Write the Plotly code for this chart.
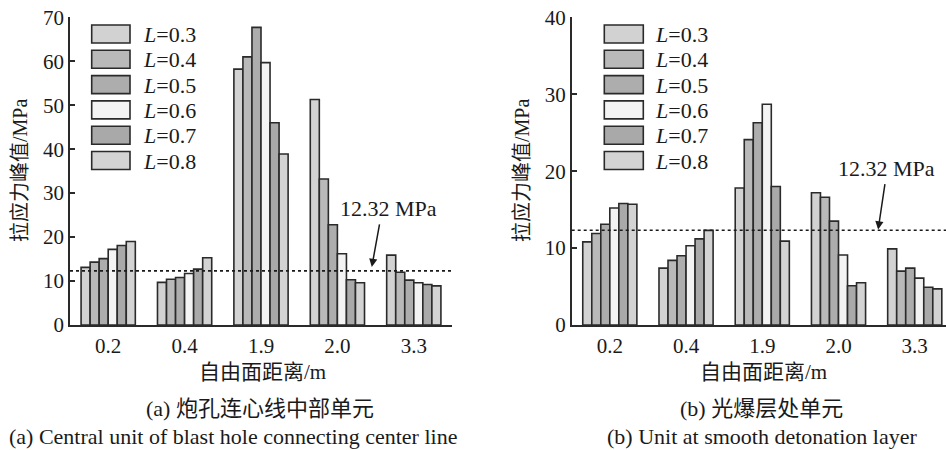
import plotly.graph_objects as go

# ---------------- data ----------------
categories = ["0.2", "0.4", "1.9", "2.0", "3.3"]
L_values = ["0.3", "0.4", "0.5", "0.6", "0.7", "0.8"]

# (a) central unit of blast hole connecting center line
a_L03 = [13.1, 9.7, 58.2, 51.3, 15.9]
a_L04 = [14.3, 10.4, 61.0, 33.2, 12.0]
a_L05 = [15.1, 10.8, 67.7, 22.8, 10.2]
a_L06 = [17.2, 11.7, 59.7, 16.2, 9.6]
a_L07 = [18.1, 12.7, 46.0, 10.3, 9.2]
a_L08 = [19.0, 15.3, 38.9, 9.6, 8.9]

# (b) unit at smooth detonation layer
b_L03 = [10.8, 7.4, 17.8, 17.2, 9.9]
b_L04 = [11.9, 8.4, 24.1, 16.6, 7.0]
b_L05 = [13.1, 9.0, 26.3, 13.5, 7.4]
b_L06 = [15.2, 10.3, 28.7, 9.1, 6.1]
b_L07 = [15.8, 11.2, 18.0, 5.1, 4.9]
b_L08 = [15.7, 12.3, 10.9, 5.5, 4.7]

threshold = 12.32
y_ticks_a = [0, 10, 20, 30, 40, 50, 60, 70]
y_ticks_b = [0, 10, 20, 30, 40]

series_a = [a_L03, a_L04, a_L05, a_L06, a_L07, a_L08]
series_b = [b_L03, b_L04, b_L05, b_L06, b_L07, b_L08]

# ---------------- style ----------------
fills = ["#d2d2d2", "#b9b9b9", "#adadad", "#f3f3f3", "#a9a9a9", "#d3d3d3"]
edge = "#2a2a2a"
txt = "#1a1a1a"
SERIF = "Liberation Serif"
FONT = "Liberation Serif, Noto Sans CJK SC"
W, H = 946, 450

fig = go.Figure()
for i, L in enumerate(L_values):
    fig.add_trace(go.Bar(x=categories, y=series_a[i], name=f"L={L}",
                         marker=dict(color=fills[i], line=dict(color=edge, width=1.6)),
                         xaxis="x", yaxis="y", showlegend=False))
    fig.add_trace(go.Bar(x=categories, y=series_b[i], name=f"L={L}",
                         marker=dict(color=fills[i], line=dict(color=edge, width=1.6)),
                         xaxis="x2", yaxis="y2", showlegend=False))

def px_x(p):
    return p / W

def px_y(p):
    return 1 - p / H

ydom = [px_y(325), px_y(17.3)]
axis_common = dict(showgrid=False, zeroline=False, showline=True, linecolor=edge,
                   linewidth=1.7, automargin=False, ticklabeloverflow="allow",
                   tickfont=dict(family=SERIF, size=21, color=txt))

fig.update_layout(
    width=W, height=H,
    margin=dict(l=0, r=0, t=0, b=0, autoexpand=False),
    paper_bgcolor="white", plot_bgcolor="white",
    barmode="group", bargap=0.29, bargroupgap=0,
    showlegend=False,
    xaxis=dict(domain=[px_x(70), px_x(452)], type="category", range=[-0.5, 4.5],
               ticks="", anchor="y", ticklabelstandoff=1, **axis_common),
    yaxis=dict(domain=ydom, range=[0, 70], tickvals=y_ticks_a, ticks="inside",
               ticklen=5, tickwidth=1.5, tickcolor=edge, anchor="x", **axis_common),
    xaxis2=dict(domain=[px_x(571.7), 1.0], type="category", range=[-0.5, 4.41],
                ticks="", anchor="y2", ticklabelstandoff=1, **axis_common),
    yaxis2=dict(domain=ydom, range=[0, 40], tickvals=y_ticks_b, ticks="inside",
                ticklen=5, tickwidth=1.5, tickcolor=edge, anchor="x2", **axis_common),
)

# threshold dotted lines
for xr, yr in [("x domain", "y"), ("x2 domain", "y2")]:
    fig.add_shape(type="line", xref=xr, yref=yr, x0=0, x1=1, y0=threshold, y1=threshold,
                  line=dict(color=txt, width=1.6, dash="dot"), layer="above")

annotations = []
# threshold labels and arrows
for xr, yr, tx, ty, hx, hy, ax, ay in [("x", "y", 3.675, 26.6, 3.45, 13.2, 8, -44),
                                        ("x2", "y2", 3.625, 20.4, 3.52, 12.4, 7, -47)]:
    annotations.append(dict(xref=xr, yref=yr, x=tx, y=ty, text=f"{threshold} MPa",
                            xanchor="center", yanchor="middle",
                            showarrow=False, font=dict(family=SERIF, size=22, color=txt)))
    annotations.append(dict(xref=xr, yref=yr, x=hx, y=hy, text="", showarrow=True,
                            ax=ax, ay=ay, arrowhead=2, arrowsize=1.1, arrowwidth=1.5,
                            arrowcolor=txt))

# custom legends (wide rectangles like the reference)
row_tops = [25, 50.3, 75.6, 100.9, 126.2, 151.5]
for bx0, bx1, tx in [(91.7, 130, 141), (604.3, 643.3, 653)]:
    for i, L in enumerate(L_values):
        t = row_tops[i]
        fig.add_shape(type="rect", xref="paper", yref="paper",
                      x0=px_x(bx0), x1=px_x(bx1), y0=px_y(t + 18), y1=px_y(t),
                      fillcolor=fills[i], line=dict(color=edge, width=1.6))
        annotations.append(dict(xref="paper", yref="paper", x=px_x(tx), y=px_y(t + 9.5),
                                xanchor="left", yanchor="middle", showarrow=False,
                                text=f"<i>L</i>=" + L,
                                font=dict(family=SERIF, size=22, color=txt)))

# axis titles and captions
for cx, cap_cn, cap_en, cen_x in [(262, "(a) 炮孔连心线中部单元",
                                   "(a) Central unit of blast hole connecting center line", 233),
                                  (763, "(b) 光爆层处单元",
                                   "(b) Unit at smooth detonation layer", 762)]:
    annotations.append(dict(xref="paper", yref="paper", x=px_x(cx), y=px_y(372),
                            xanchor="center", yanchor="middle",
                            text="自由面距离/m", showarrow=False,
                            font=dict(family=FONT, size=21, color=txt)))
    annotations.append(dict(xref="paper", yref="paper", x=px_x(cx - 2), y=px_y(408),
                            xanchor="center", yanchor="middle",
                            text=cap_cn, showarrow=False,
                            font=dict(family=FONT, size=22, color=txt)))
    annotations.append(dict(xref="paper", yref="paper", x=px_x(cen_x), y=px_y(436),
                            xanchor="center", yanchor="middle",
                            text=cap_en, showarrow=False,
                            font=dict(family=SERIF, size=22, color=txt)))

for yx in [20, 522]:
    annotations.append(dict(xref="paper", yref="paper", x=px_x(yx), y=px_y(171),
                            xanchor="center", yanchor="middle",
                            text="拉应力峰值/MPa", textangle=-90, showarrow=False,
                            font=dict(family=FONT, size=20, color=txt)))

fig.update_layout(annotations=annotations)
# remove the page's default body margin so the figure fills the window exactly
fig.write_html("out.html", config={"displayModeBar": False},
               post_script="document.body.style.margin='0px';document.body.style.overflow='hidden';")
